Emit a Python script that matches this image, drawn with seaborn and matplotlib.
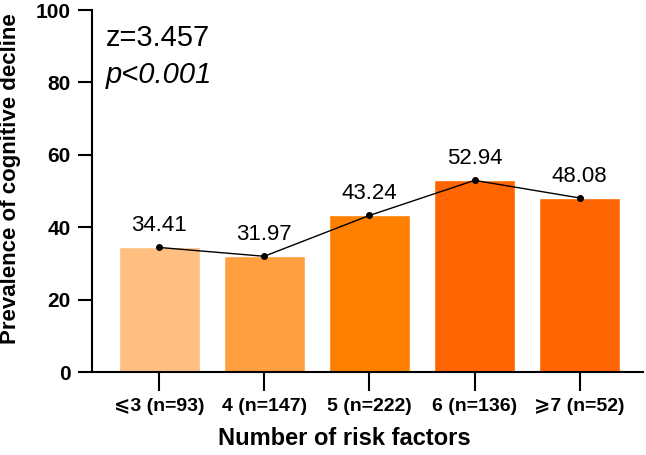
import matplotlib
matplotlib.use("Agg")
import matplotlib.pyplot as plt
import seaborn as sns
import pandas as pd

categories = ["⩽3 (n=93)", "4 (n=147)", "5 (n=222)", "6 (n=136)", "⩾7 (n=52)"]
values = [34.41, 31.97, 43.24, 52.94, 48.08]
colors = ["#FFBF80", "#FF9F40", "#FF8000", "#FF6500", "#FF6500"]
yticks = [0, 20, 40, 60, 80, 100]
stat_z = "z=3.457"
stat_p = "p<0.001"

sns.set_style("ticks")
plt.rcParams["font.family"] = ["Liberation Sans", "DejaVu Sans"]
plt.rcParams["text.color"] = "black"
plt.rcParams["axes.labelcolor"] = "black"

df = pd.DataFrame({"cat": categories, "val": values})

fig = plt.figure(figsize=(6.46, 4.55), dpi=100)
ax = fig.add_axes([0.142, 0.1824, 0.853, 0.7956])

sns.barplot(data=df, x="cat", y="val", hue="cat", palette=colors,
            width=0.77, saturation=1, legend=False, ax=ax)
ax.plot(range(len(values)), values, color="black", lw=1, marker="o",
        markersize=4)

for i, v in enumerate(values):
    ax.annotate(f"{v:.2f}", (i, v), xytext=(0, 8), textcoords="offset points",
                ha="center", va="bottom", fontsize=16, color="black")

ax.set_xlim(-0.64, 4.6)
ax.set_ylim(0, 100)
ax.set_yticks(yticks)
ax.set_yticklabels([str(t) for t in yticks], fontsize=15, fontweight="bold")
ax.set_xticks(range(len(categories)))
ax.set_xticklabels(categories, fontsize=14, fontweight="bold")
ax.tick_params(axis="both", direction="out", width=1.5, colors="black")
ax.tick_params(axis="y", length=10, pad=5)
ax.tick_params(axis="x", length=14, pad=5)
for s in ["left", "bottom"]:
    ax.spines[s].set_linewidth(1.5)
    ax.spines[s].set_color("black")
for s in ["top", "right"]:
    ax.spines[s].set_visible(False)

ax.set_xlabel("Number of risk factors", fontsize=17, fontweight="bold", color="black")
ax.xaxis.set_label_coords(0.458, -0.152)
ax.set_ylabel("Prevalence of cognitive decline", fontsize=16, fontweight="bold", color="black")
ax.yaxis.set_label_coords(-0.128, 0.535)

ax.text(0.025, 0.96, stat_z, transform=ax.transAxes, fontsize=21, va="top", ha="left",
        color="black")
ax.text(0.025, 0.86, stat_p, transform=ax.transAxes, fontsize=21, va="top", ha="left",
        style="italic", color="black")

fig.savefig("out.png", dpi=100)
